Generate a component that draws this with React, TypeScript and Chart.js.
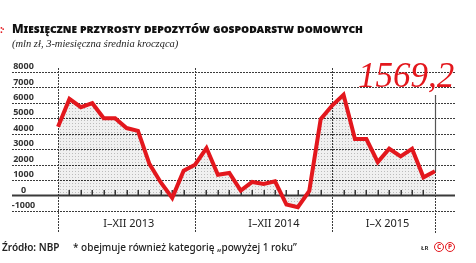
import React, { useEffect, useRef } from 'react';
import { Chart, registerables } from 'chart.js';
Chart.register(...registerables);

const MONTHS = [
  'I 2013','II 2013','III 2013','IV 2013','V 2013','VI 2013','VII 2013','VIII 2013','IX 2013','X 2013','XI 2013','XII 2013',
  'I 2014','II 2014','III 2014','IV 2014','V 2014','VI 2014','VII 2014','VIII 2014','IX 2014','X 2014','XI 2014','XII 2014',
  'I 2015','II 2015','III 2015','IV 2015','V 2015','VI 2015','VII 2015','VIII 2015','IX 2015','X 2015'
];
const VALUES = [
  4450, 6260, 5720, 5980, 5010, 5000, 4370, 4190, 2050, 850, -150, 1610,
  2000, 3075, 1350, 1460, 320, 880, 750, 925, -580, -750, 300, 4950,
  5830, 6520, 3660, 3660, 2170, 3030, 2540, 3030, 1180, 1569.2
];
const Y_TICKS = [-1000, 0, 1000, 2000, 3000, 4000, 5000, 6000, 7000, 8000];
const PERIOD_LABELS = ['I–XII 2013', 'I–XII 2014', 'I–X 2015'];
const PERIOD_STARTS = [0, 12, 24];

// layout constants (positions only)
const PERIOD_LABEL_AT = [6.2, 18.9, 28.85];
const X_MIN = -4.03;
const X_MAX = 34.76;

const RED = '#e3171d';
const GRID = '#3c3c3c';

function makePattern(): CanvasPattern | string {
  const c = document.createElement('canvas');
  c.width = 3;
  c.height = 3;
  const g = c.getContext('2d');
  if (!g) return 'rgba(0,0,0,0.1)';
  g.fillStyle = 'rgba(0,0,0,0.06)';
  g.fillRect(0, 0, 3, 3);
  g.fillStyle = 'rgba(0,0,0,0.22)';
  g.fillRect(0, 0, 1, 1);
  const p = g.createPattern(c, 'repeat');
  return p || 'rgba(0,0,0,0.1)';
}

function dottedH(ctx: CanvasRenderingContext2D, x1: number, x2: number, y: number) {
  const yy = Math.round(y);
  for (let xx = Math.round(x1); xx < x2; xx += 3) ctx.fillRect(xx, yy, 2, 1);
}
function dottedV(ctx: CanvasRenderingContext2D, x: number, y1: number, y2: number) {
  const xx = Math.round(x);
  for (let yy = Math.round(y1); yy < y2; yy += 3) ctx.fillRect(xx, yy, 1, 2);
}

const decorPlugin = {
  id: 'decor',
  beforeDatasetsDraw(chart: any) {
    const { ctx, chartArea, scales } = chart;
    const x = scales.x;
    const y = scales.y;
    const y0 = y.getPixelForValue(0);
    ctx.save();
    ctx.fillStyle = GRID;
    // dotted horizontal grid
    for (const t of Y_TICKS) {
      if (t === 0) continue;
      dottedH(ctx, chartArea.left, chartArea.right, y.getPixelForValue(t));
    }
    // period separators (dotted)
    for (const s of PERIOD_STARTS) {
      dottedV(ctx, x.getPixelForValue(s), chartArea.top - 4, 233);
    }
    const last = MONTHS.length - 1;
    const lxv = x.getPixelForValue(last);
    const ly = y.getPixelForValue(VALUES[last]);
    dottedV(ctx, lxv, ly, 233);
    ctx.strokeStyle = '#555';
    ctx.lineWidth = 1.2;
    ctx.beginPath();
    ctx.moveTo(Math.round(lxv) + 0.5, 95);
    ctx.lineTo(Math.round(lxv) + 0.5, ly);
    ctx.stroke();

    // zero line
    ctx.strokeStyle = '#3a3a3a';
    ctx.lineWidth = 2;
    ctx.beginPath();
    ctx.moveTo(chartArea.left, y0);
    ctx.lineTo(chartArea.right, y0);
    ctx.stroke();
    // month ticks
    ctx.lineWidth = 1.5;
    for (let i = 1; i < MONTHS.length - 1; i++) {
      if (PERIOD_STARTS.includes(i)) continue;
      const px = Math.round(x.getPixelForValue(i)) + 0.25;
      ctx.beginPath();
      ctx.moveTo(px, y0);
      ctx.lineTo(px, y0 - 5.5);
      ctx.stroke();
    }

    // y labels
    ctx.fillStyle = '#333';
    ctx.font = 'bold 9px "Noto Sans"';
    ctx.textAlign = 'center';
    ctx.textBaseline = 'middle';
    for (const t of Y_TICKS) {
      ctx.fillText(String(t), 23.5, y.getPixelForValue(t) - 5.5);
    }
    // period labels
    ctx.fillStyle = '#222';
    ctx.font = '11px "Noto Sans"';
    PERIOD_LABELS.forEach((lab, i) => {
      ctx.fillText(lab, x.getPixelForValue(PERIOD_LABEL_AT[i]), 224);
    });
    ctx.restore();
  },
};

export default function App() {
  const ref = useRef<HTMLCanvasElement | null>(null);
  useEffect(() => {
    if (!ref.current) return;
    const chart = new Chart(ref.current, {
      type: 'line',
      data: {
        datasets: [
          {
            data: VALUES.map((v, i) => ({ x: i, y: v })),
            borderColor: RED,
            borderWidth: 4,
            pointRadius: 0,
            tension: 0,
            fill: 'origin',
            backgroundColor: makePattern() as any,
            borderJoinStyle: 'miter',
          },
        ],
      },
      options: {
        animation: false,
        responsive: false,
        devicePixelRatio: 1,
        layout: { padding: { left: 12, right: 21, top: 72, bottom: 52 } },
        plugins: { legend: { display: false }, tooltip: { enabled: false } },
        scales: {
          x: {
            type: 'linear',
            min: X_MIN,
            max: X_MAX,
            display: false,
          },
          y: {
            min: -1000,
            max: 8000,
            display: false,
          },
        },
      },
      plugins: [decorPlugin],
    });
    return () => chart.destroy();
  }, []);

  return (
    <div style={{ position: 'fixed', left: 0, top: 0, width: 476, height: 263, background: '#fff', overflow: 'hidden' }}>
      <canvas ref={ref} width={476} height={263} style={{ position: 'absolute', left: 0, top: 0, width: 476, height: 263 }} />
      <div style={{ position: 'absolute', left: 0, top: 24, fontFamily: '"Noto Sans"', color: RED, fontSize: 10, fontWeight: 700, lineHeight: '10px' }}>
        <span style={{ letterSpacing: -1 }}>:·</span>
      </div>
      <div style={{ position: 'absolute', left: 12, top: 21, fontFamily: '"Noto Sans"', fontWeight: 900, fontSize: 12, fontVariant: 'small-caps', color: '#111', whiteSpace: 'nowrap', lineHeight: '16px', letterSpacing: 0 }}>
        Miesięczne przyrosty depozytów gospodarstw domowych
      </div>
      <div style={{ position: 'absolute', left: 12, top: 38, fontFamily: '"Liberation Serif"', fontStyle: 'italic', fontSize: 10.5, color: '#222', whiteSpace: 'nowrap', lineHeight: '12px' }}>
        (mln zł, 3-miesięczna średnia krocząca)
      </div>
      <div style={{ position: 'absolute', left: 358, top: 56, fontFamily: '"Liberation Serif"', fontStyle: 'italic', fontSize: 35, color: RED, whiteSpace: 'nowrap', lineHeight: '40px' }}>
        1569,2
      </div>
      <div style={{ position: 'absolute', left: 2, top: 241, fontFamily: '"Noto Sans"', fontWeight: 600, fontSize: 10, color: '#222', whiteSpace: 'nowrap', lineHeight: '13px' }}>
        Źródło: NBP
      </div>
      <div style={{ position: 'absolute', left: 73, top: 241, fontFamily: '"Noto Sans"', fontWeight: 500, fontSize: 10, color: '#222', whiteSpace: 'nowrap', lineHeight: '13px' }}>
        * obejmuje również kategorię „powyżej 1 roku”
      </div>
      <div style={{ position: 'absolute', left: 421, top: 244, fontFamily: '"Noto Sans"', fontWeight: 700, fontSize: 6, color: '#333', whiteSpace: 'nowrap', lineHeight: '8px' }}>
        ŁR
      </div>
      <div style={{ position: 'absolute', left: 434, top: 242, display: 'flex', gap: 1 }}>
        {['C', 'P'].map((ch) => (
          <div key={ch} style={{ width: 8, height: 8, border: `1.3px solid ${RED}`, borderRadius: '50%', color: RED, fontFamily: '"Noto Sans"', fontWeight: 700, fontSize: 6.5, lineHeight: '8px', textAlign: 'center' }}>
            {ch}
          </div>
        ))}
      </div>
    </div>
  );
}
